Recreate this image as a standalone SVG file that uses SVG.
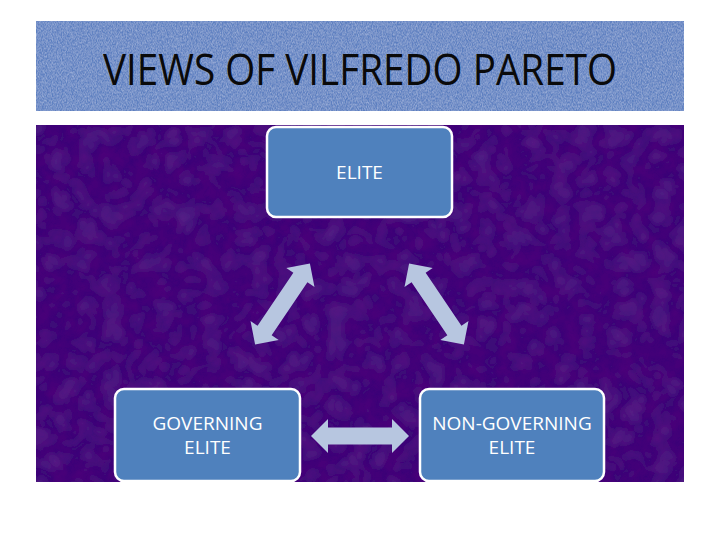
<svg xmlns="http://www.w3.org/2000/svg" width="720" height="540" viewBox="0 0 720 540">
  <style>
    .title { font-family: "Open Sans", "Liberation Sans", sans-serif; font-size: 44px; fill: #0a0a0a; }
    .node rect { fill: #4F81BD; stroke: #FFFFFF; stroke-width: 2.5; }
    .node text { font-family: "Open Sans", "Liberation Sans", sans-serif; font-size: 19px; fill: #FFFFFF; text-anchor: middle; }
    .arrow { fill: #B7C6E0; }
  </style>
  <defs>
    <filter id="texBlue" x="0" y="0" width="100%" height="100%">
      <feTurbulence type="fractalNoise" baseFrequency="1.2 0.5" numOctaves="2" seed="3" result="n"/>
      <feColorMatrix in="n" type="matrix" values="0 0 0 0 0.75  0 0 0 0 0.84  0 0 0 0 1  0 0 0 0.7 -0.2" result="c"/>
      <feComposite in="c" in2="SourceGraphic" operator="in" result="m"/>
      <feTurbulence type="fractalNoise" baseFrequency="0.5 1.2" numOctaves="2" seed="11" result="n2"/>
      <feColorMatrix in="n2" type="matrix" values="0 0 0 0 0.15  0 0 0 0 0.25  0 0 0 0 0.55  0 0 0 0.9 -0.2" result="c2"/>
      <feComposite in="c2" in2="SourceGraphic" operator="in" result="m2"/>
      <feMerge><feMergeNode in="SourceGraphic"/><feMergeNode in="m"/><feMergeNode in="m2"/></feMerge>
    </filter>
    <filter id="texPurple" x="0" y="0" width="100%" height="100%">
      <feTurbulence type="fractalNoise" baseFrequency="0.06" numOctaves="3" seed="7" result="n"/>
      <feColorMatrix in="n" type="matrix" values="0 0 0 0 0.1  0 0 0 0 0  0 0 0 0 0.2  0 0 0 0.8 -0.25" result="c"/>
      <feComposite in="c" in2="SourceGraphic" operator="in" result="m"/>
      <feTurbulence type="turbulence" baseFrequency="0.04" numOctaves="2" seed="2" result="t"/>
      <feColorMatrix in="t" type="matrix" values="0 0 0 0 0.38  0 0 0 0 0.12  0 0 0 0 0.65  0 0 0 0.15 -0.02" result="tc"/>
      <feComposite in="tc" in2="SourceGraphic" operator="in" result="tm"/>
      <feMerge><feMergeNode in="SourceGraphic"/><feMergeNode in="m"/><feMergeNode in="tm"/></feMerge>
    </filter>
    <path id="dblArrow" d="M -49 0 L -32 -17 L -32 -8.5 L 32 -8.5 L 32 -17 L 49 0 L 32 17 L 32 8.5 L -32 8.5 L -32 17 Z"/>
  </defs>

  <rect x="0" y="0" width="720" height="540" fill="#FFFFFF"/>

  <g id="title-band">
    <rect x="36" y="21" width="648" height="90" fill="#5A7EC0" filter="url(#texBlue)"/>
    <text class="title" x="360" y="85" text-anchor="middle" textLength="514" lengthAdjust="spacingAndGlyphs">VIEWS OF VILFREDO PARETO</text>
  </g>

  <g id="content-bg">
    <rect x="36" y="125" width="648" height="357" fill="#3E0B78" filter="url(#texPurple)"/>
  </g>

  <g id="connectors">
    <use href="#dblArrow" class="arrow" transform="translate(282.5 304) rotate(-56)"/>
    <use href="#dblArrow" class="arrow" transform="translate(436.5 304) rotate(56)"/>
    <use href="#dblArrow" class="arrow" transform="translate(360 436)"/>
  </g>

  <g id="node-elite" class="node">
    <rect x="267" y="127" width="185" height="90" rx="9" ry="9"/>
    <text x="359.5" y="179">ELITE</text>
  </g>

  <g id="node-governing" class="node">
    <rect x="115" y="389" width="185" height="92" rx="9" ry="9"/>
    <text x="207.5" y="430">GOVERNING</text>
    <text x="207.5" y="454">ELITE</text>
  </g>

  <g id="node-nongoverning" class="node">
    <rect x="420" y="389" width="184" height="92" rx="9" ry="9"/>
    <text x="512" y="430">NON-GOVERNING</text>
    <text x="512" y="454">ELITE</text>
  </g>
</svg>
